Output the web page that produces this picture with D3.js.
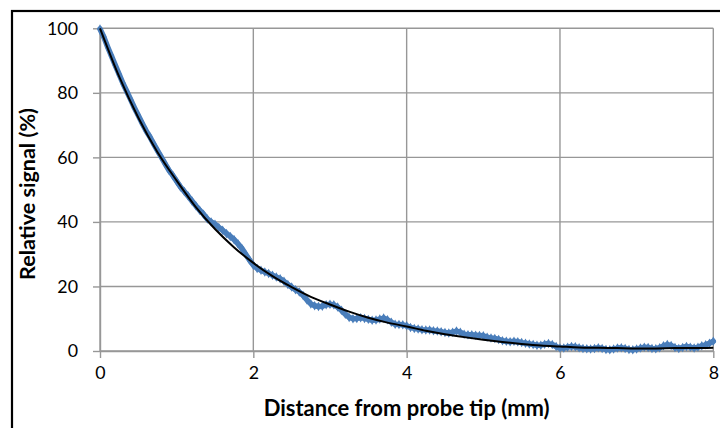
<!DOCTYPE html>
<html>
<head>
<meta charset="utf-8">
<script src="https://cdn.jsdelivr.net/npm/d3@7"></script>
<style>
  body { margin: 0; background: #fff; }
  text { font-family: Lato, "Open Sans", sans-serif; fill: #000; }
</style>
</head>
<body>
<div id="chart"></div>
<script>
// measured signal, x from 0 to 8 mm in steps of 0.05
const signal = [
  99.8, 97.3, 94.2, 91.4, 88.5, 85.7, 82.9, 80.4, 77.9, 75.3,
  73.0, 70.6, 68.3, 66.4, 64.2, 62.1, 60.1, 58.0, 56.0, 54.4,
  52.6, 50.8, 49.4, 48.0, 46.5, 45.0, 43.6, 42.4, 40.9, 40.0,
  39.3, 38.3, 37.4, 36.4, 35.5, 34.5, 33.2, 31.8, 30.0, 28.2,
  26.6, 25.6, 25.0, 24.5, 24.0, 23.5, 22.9, 22.4, 21.6, 20.6,
  19.8, 19.0, 18.3, 17.2, 15.8, 14.6, 14.0, 13.8, 13.9, 14.3,
  14.5, 14.3, 13.6, 12.6, 11.4, 10.4, 10.0, 10.1, 10.3, 10.1,
  9.8, 9.5, 9.6, 9.9, 10.2, 9.7, 8.9, 8.3, 8.2, 8.1,
  7.8, 7.3, 7.0, 6.8, 6.6, 6.5, 6.5, 6.3, 6.2, 6.0,
  5.7, 5.6, 5.8, 6.2, 5.8, 5.2, 5.0, 5.0, 4.9, 4.8,
  4.7, 4.3, 4.0, 3.9, 3.6, 3.2, 3.0, 2.9, 3.0, 2.9,
  2.6, 2.4, 2.2, 2.0, 1.8, 1.8, 2.1, 2.3, 2.0, 1.4,
  0.9, 0.9, 1.2, 1.4, 1.3, 1.0, 0.8, 0.7, 0.6, 0.8,
  1.0, 0.8, 0.5, 0.4, 0.6, 0.9, 1.0, 0.8, 0.5, 0.4,
  0.6, 0.9, 1.2, 1.1, 0.8, 0.7, 1.0, 1.6, 2.0, 1.7,
  1.1, 0.8, 1.1, 1.4, 1.2, 0.9, 1.2, 1.6, 1.9, 2.4,
  3.0
];
const signalStep = 0.05;

// trend line, x from 0 to 8 mm in steps of 0.25
const trend = [
  100, 85.0, 72.3, 61.6, 52.8, 44.6, 37.8, 32.1, 27.3, 23.2,
  19.8, 16.8, 14.4, 12.2, 10.3, 8.8, 7.6, 6.3, 5.2, 4.3,
  3.5, 2.8, 2.2, 1.7, 1.4, 1.1, 1.0, 0.9, 0.8, 0.8,
  0.9, 0.9, 1.0
];
const trendStep = 0.25;

const xTicks = [0, 2, 4, 6, 8];
const yTicks = [0, 20, 40, 60, 80, 100];

const width = 720, height = 428;
const margin = {top: 28.3, right: 6.7, bottom: 77, left: 100};
const w = width - margin.left - margin.right;
const h = height - margin.top - margin.bottom;

// scale a text's font so it spans the given width
function fitFont(sel, target) {
  const len = sel.node().getComputedTextLength();
  const fs = parseFloat(sel.attr("font-size"));
  return fs * target / len;
}

const svg = d3.select("#chart").append("svg")
    .attr("width", width)
    .attr("height", height);

// chart frame
svg.append("rect")
    .attr("x", 12).attr("y", 11)
    .attr("width", 730).attr("height", 440)
    .attr("fill", "none")
    .attr("stroke", "#000")
    .attr("stroke-width", 2.2);

const g = svg.append("g")
    .attr("transform", `translate(${margin.left},${margin.top})`);

const x = d3.scaleLinear().domain([0, 8]).range([0, w]);
const y = d3.scaleLinear().domain([0, 100]).range([h, 0]);

// gridlines
g.append("g").selectAll("line.h")
    .data(yTicks)
    .join("line")
    .attr("x1", 0).attr("x2", w)
    .attr("y1", d => y(d)).attr("y2", d => y(d))
    .attr("stroke", "#979797").attr("stroke-width", 1.4);
g.append("g").selectAll("line.v")
    .data(xTicks)
    .join("line")
    .attr("y1", 0).attr("y2", h)
    .attr("x1", d => x(d)).attr("x2", d => x(d))
    .attr("stroke", "#979797").attr("stroke-width", 1.4);

// axes
const xAxis = g.append("g")
    .attr("transform", `translate(0,${h})`)
    .call(d3.axisBottom(x).tickValues(xTicks).tickSize(7).tickPadding(8).tickSizeOuter(0));
const yAxis = g.append("g")
    .call(d3.axisLeft(y).tickValues(yTicks).tickSize(7).tickPadding(15).tickSizeOuter(0));
[xAxis, yAxis].forEach(a => {
  a.attr("font-size", null).attr("font-family", null);
  a.select(".domain").attr("stroke", "#979797").attr("stroke-width", 1.4);
  a.selectAll(".tick line").attr("stroke", "#979797").attr("stroke-width", 1.4);
  a.selectAll(".tick text")
      .attr("font-size", 16)
      .attr("fill", "#000");
});
// tick label size: "100" is about 31px wide in the reference
const tickFs = fitFont(yAxis.selectAll(".tick text").filter(d => d === 100), 31);
g.selectAll(".tick text").attr("font-size", tickFs);

// measured data
const pts = signal.map((v, i) => [i * signalStep, v]);
const line = d3.line().x(d => x(d[0])).y(d => y(d[1]));

g.append("path")
    .datum(pts)
    .attr("d", line)
    .attr("fill", "none")
    .attr("stroke", "#4a7ebb")
    .attr("stroke-width", 5.5)
    .attr("stroke-linejoin", "round")
    .attr("stroke-linecap", "round");

g.append("g").selectAll("path")
    .data(pts)
    .join("path")
    .attr("transform", d => `translate(${x(d[0])},${y(d[1])})`)
    .attr("d", d3.symbol(d3.symbolDiamond, 26))
    .attr("fill", "#4a7ebb");

// trend line
const tpts = trend.map((v, i) => [i * trendStep, v]);
g.append("path")
    .datum(tpts)
    .attr("d", line.curve(d3.curveMonotoneX))
    .attr("fill", "none")
    .attr("stroke", "#000")
    .attr("stroke-width", 2);

// axis titles
const xTitle = svg.append("text")
    .attr("x", margin.left + w / 2)
    .attr("y", 416)
    .attr("text-anchor", "middle")
    .attr("font-size", 16)
    .attr("font-weight", "bold")
    .text("Distance from probe tip (mm)");
xTitle.attr("font-size", fitFont(xTitle, 286));

const yTitle = svg.append("text")
    .attr("transform", "translate(35,194) rotate(-90)")
    .attr("text-anchor", "middle")
    .attr("font-size", 16)
    .attr("font-weight", "bold")
    .text("Relative signal (%)");
yTitle.attr("font-size", fitFont(yTitle, 172));
</script>
</body>
</html>
